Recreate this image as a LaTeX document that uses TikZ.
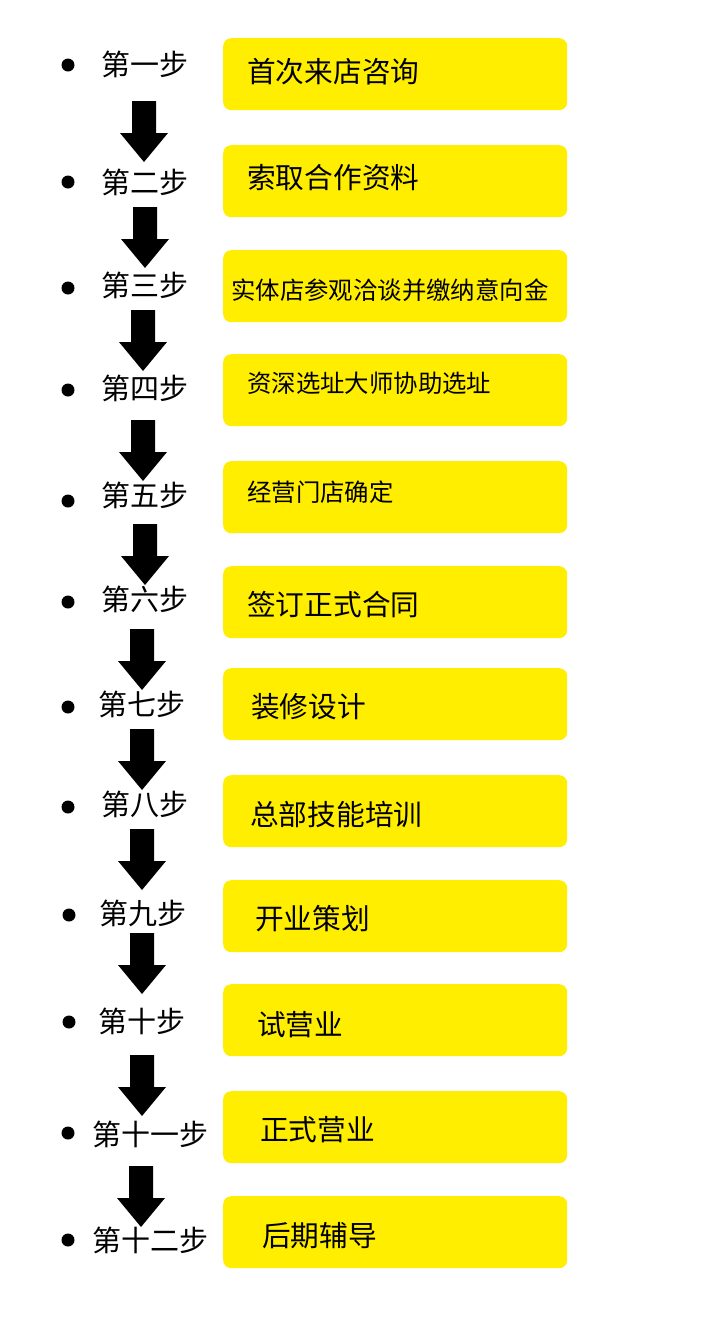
\documentclass[tikz,border=0pt]{standalone}
\usepackage{fontspec}
\setmainfont{Noto Sans CJK SC}
\definecolor{stepyellow}{HTML}{FFEE00}
\begin{document}
\begin{tikzpicture}[x=1pt,y=-1pt,
  stepbox/.style={fill=stepyellow,rounded corners=8pt,minimum width=344pt,minimum height=72pt,anchor=north west,inner sep=0pt},
  bigtext/.style={anchor=west,font=\fontsize{28.7}{32}\selectfont,inner sep=0pt},
  smalltext/.style={anchor=west,font=\fontsize{24.4}{27}\selectfont,inner sep=0pt},
  steplabel/.style={anchor=west,font=\fontsize{29}{32}\selectfont,inner sep=0pt},
  dot/.style={circle,fill=black,minimum size=13pt,inner sep=0pt},
  blockarrow/.style={fill=black}]
\useasboundingbox (0,0) rectangle (702,1318);
% boxes
\foreach \i/\t in {1/38,2/145,3/250,4/354,5/461,6/566,7/668,8/775,9/880,10/984,11/1091,12/1196}
  \node[stepbox] (b\i) at (223,\t) {};
% box texts
\node[bigtext] (t1) at (247,72) {首次来店咨询};
\node[bigtext] (t2) at (247,178) {索取合作资料};
\node[smalltext] (t3) at (231,290) {实体店参观洽谈并缴纳意向金};
\node[smalltext] (t4) at (247,383) {资深选址大师协助选址};
\node[smalltext] (t5) at (247,492) {经营门店确定};
\node[bigtext] (t6) at (247,605) {签订正式合同};
\node[bigtext] (t7) at (251,707) {装修设计};
\node[bigtext] (t8) at (250,815) {总部技能培训};
\node[bigtext] (t9) at (255,919) {开业策划};
\node[bigtext] (t10) at (257,1025) {试营业};
\node[bigtext] (t11) at (260,1130) {正式营业};
\node[bigtext] (t12) at (262,1236) {后期辅导};
% bullets
\foreach \i/\x/\y in {1/68/65,2/68/182,3/68/288,4/68/390,5/68/501,6/68/602,7/68/707,8/68/807,9/69/915,10/69/1022,11/68/1133,12/68/1240}
  \node[dot] (d\i) at (\x,\y) {};
% labels
\node[steplabel] (l1) at (101,64) {第一步};
\node[steplabel] (l2) at (101,182) {第二步};
\node[steplabel] (l3) at (101,285) {第三步};
\node[steplabel] (l4) at (101,388) {第四步};
\node[steplabel] (l5) at (101,495) {第五步};
\node[steplabel] (l6) at (101,599) {第六步};
\node[steplabel] (l7) at (98,704) {第七步};
\node[steplabel] (l8) at (101,804) {第八步};
\node[steplabel] (l9) at (99,913) {第九步};
\node[steplabel] (l10) at (98,1021) {第十步};
\node[steplabel] (l11) at (92,1134) {第十一步};
\node[steplabel] (l12) at (92,1240) {第十二步};
% block arrows
\foreach \x/\y in {144/101,145/207,143/310,143/420,145/524,142/629,142/729,142/829,142/933,142/1055,141/1166}
  \fill[blockarrow] (\x-12,\y) -- (\x+12,\y) -- (\x+12,\y+32) -- (\x+24,\y+32) -- (\x,\y+61) -- (\x-24,\y+32) -- (\x-12,\y+32) -- cycle;
\end{tikzpicture}
\end{document}
